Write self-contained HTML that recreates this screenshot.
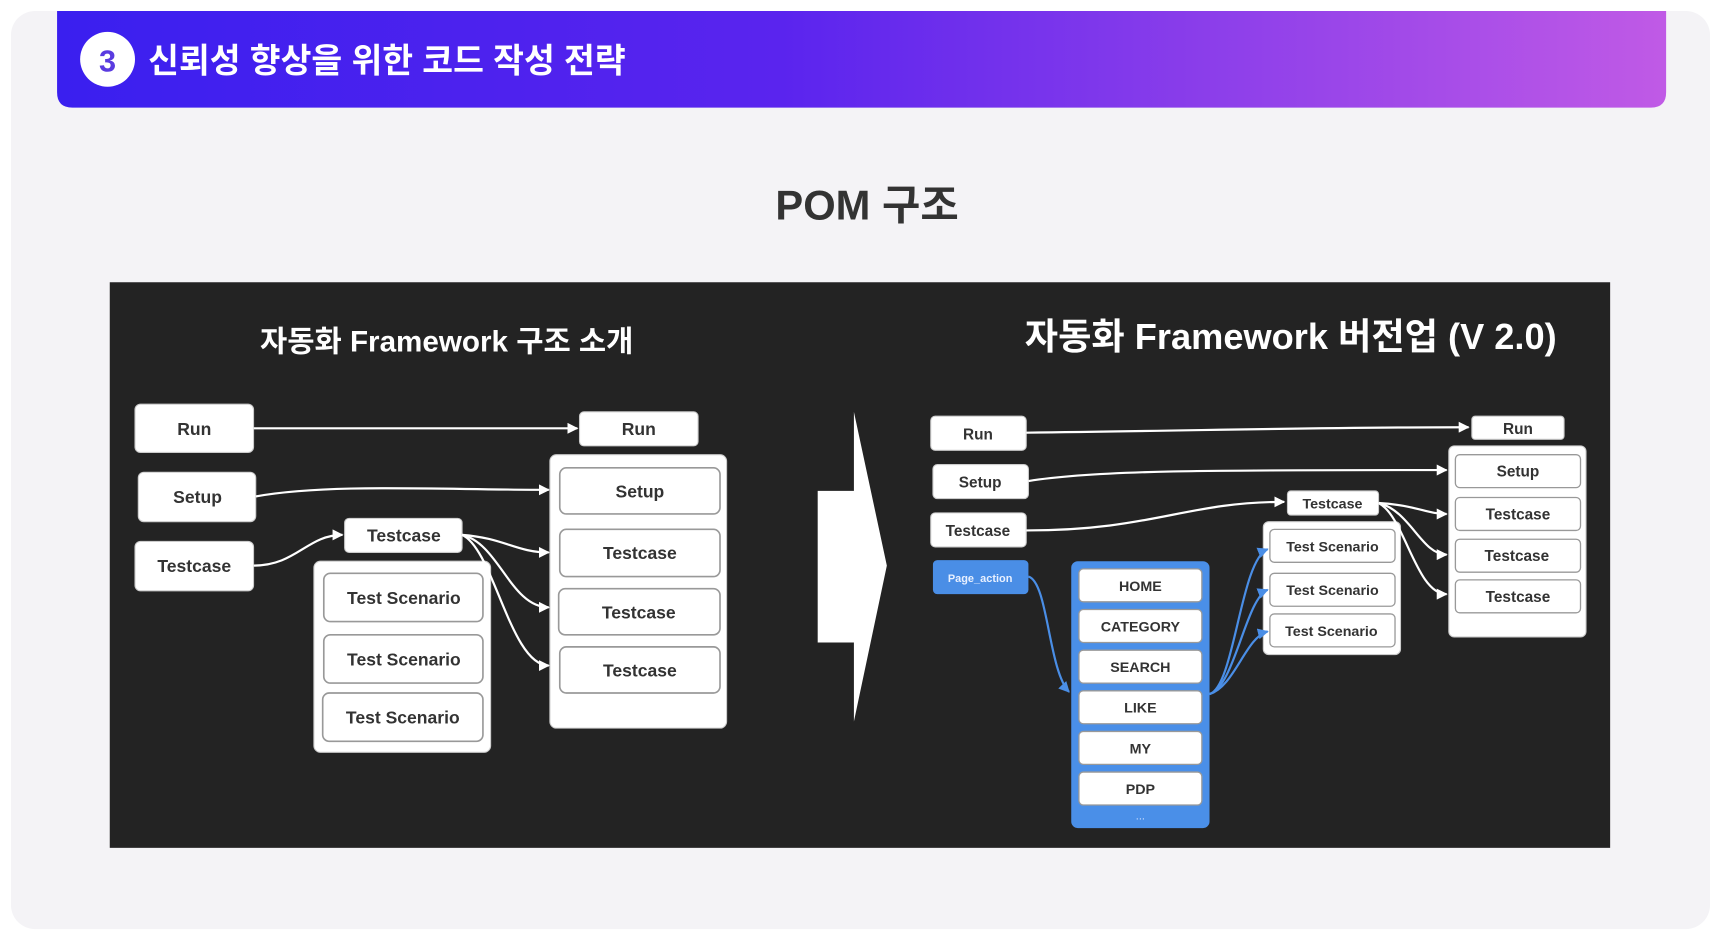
<!DOCTYPE html>
<html><head><meta charset="utf-8"><style>
html,body{margin:0;padding:0;background:#fff;}
svg{display:block;}
text{font-family:"Liberation Sans","Noto Sans CJK KR",sans-serif;}
</style></head><body>
<svg width="1721" height="939" viewBox="0 0 1568 855" preserveAspectRatio="none" xmlns="http://www.w3.org/2000/svg">
<defs>
<linearGradient id="hg" x1="0" x2="1" y1="0" y2="0">
<stop offset="0" stop-color="#3a1fef"/><stop offset="0.45" stop-color="#5a24ee"/><stop offset="1" stop-color="#c05ae6"/>
</linearGradient>
<marker id="aw" viewBox="0 0 10 10" refX="9" refY="5" markerWidth="5" markerHeight="5" orient="auto"><path d="M0,0 L10,5 L0,10 z" fill="#fff"/></marker>
<marker id="ab" viewBox="0 0 10 10" refX="9" refY="5" markerWidth="5" markerHeight="5" orient="auto"><path d="M0,0 L10,5 L0,10 z" fill="#4a8ee6"/></marker>
</defs>
<rect x="0" y="0" width="1568" height="855" fill="#fff"/>
<rect x="10" y="10" width="1548" height="836" rx="22" fill="#f4f3f6"/>
<path d="M52,10 H1518 V84 Q1518,98 1504,98 H66 Q52,98 52,84 Z" fill="url(#hg)"/>
<circle cx="98" cy="54" r="25" fill="#fff"/>
<text x="98" y="65" text-anchor="middle" font-size="28" font-weight="bold" fill="#5a3be0">3</text>
<text x="135" y="66" font-size="31" font-weight="bold" fill="#fff" textLength="435" lengthAdjust="spacingAndGlyphs">신뢰성 향상을 위한 코드 작성 전략</text>
<text x="790" y="200" text-anchor="middle" font-size="38" font-weight="bold" fill="#333">POM 구조</text>
<rect x="100" y="257" width="1367" height="515" fill="#232323"/>
<text x="407" y="320" text-anchor="middle" font-size="27" font-weight="bold" fill="#fff">자동화 Framework 구조 소개</text>
<text x="1176" y="318" text-anchor="middle" font-size="33" font-weight="bold" fill="#fff">자동화 Framework 버전업 (V 2.0)</text>

<g fill="#fff" stroke="#ccc" stroke-width="1">
<rect x="123" y="368" width="108" height="44" rx="5"/>
<rect x="528" y="375" width="108" height="31" rx="4"/>
<rect x="126" y="430" width="107" height="45" rx="5"/>
<rect x="123" y="493" width="108" height="45" rx="5"/>
<rect x="314" y="472" width="107" height="31" rx="4"/>
<rect x="286" y="511" width="161" height="174" rx="6"/>
<rect x="501" y="414" width="161" height="249" rx="6"/>
</g>
<g fill="#fff" stroke="#999" stroke-width="1.5">
<rect x="295" y="522" width="145" height="44" rx="6"/>
<rect x="295" y="578" width="145" height="44" rx="6"/>
<rect x="294" y="631" width="146" height="44" rx="6"/>
<rect x="510" y="426" width="146" height="42" rx="6"/>
<rect x="510" y="482" width="146" height="43" rx="6"/>
<rect x="509" y="536" width="147" height="42" rx="6"/>
<rect x="510" y="589" width="146" height="42" rx="6"/>
</g>
<g font-size="16" font-weight="bold" fill="#333" text-anchor="middle">
<text x="177" y="396">Run</text><text x="582" y="396">Run</text>
<text x="180" y="458">Setup</text><text x="177" y="521">Testcase</text>
<text x="368" y="493">Testcase</text>
<text x="368" y="550">Test Scenario</text><text x="368" y="606">Test Scenario</text><text x="367" y="659">Test Scenario</text>
<text x="583" y="453">Setup</text><text x="583" y="509">Testcase</text><text x="582" y="563">Testcase</text><text x="583" y="616">Testcase</text>
</g>
<g fill="none" stroke="#fff" stroke-width="2" marker-end="url(#aw)">
<path d="M231,390 H526"/>
<path d="M233,452 C300,440 400,446 500,446"/>
<path d="M231,515 C270,515 280,487 312,487"/>
<path d="M421,487 C460,490 470,503 500,503"/>
<path d="M421,487 C455,495 465,553 500,553"/>
<path d="M421,487 C450,500 465,606 500,606"/>
</g>
<polygon points="745,447 778,447 778,375 808,515 778,657 778,585 745,585" fill="#fff"/>

<g fill="#fff" stroke="#ccc" stroke-width="1">
<rect x="848" y="379" width="87" height="31" rx="4"/>
<rect x="850" y="423" width="87" height="31" rx="4"/>
<rect x="848" y="467" width="87" height="31" rx="4"/>
<rect x="1173" y="447" width="83" height="22" rx="3"/>
<rect x="1151" y="475" width="125" height="121" rx="5"/>
<rect x="1341" y="379" width="84" height="21" rx="3"/>
<rect x="1320" y="406" width="125" height="174" rx="5"/>
</g>
<rect x="850" y="510" width="87" height="31" rx="4" fill="#4a8ee6"/>
<rect x="976" y="511" width="126" height="243" rx="6" fill="#4a8fe8"/>
<g fill="#fff" stroke="#999" stroke-width="1.2">
<rect x="983" y="518" width="112" height="30" rx="4"/>
<rect x="983" y="555" width="112" height="30" rx="4"/>
<rect x="983" y="592" width="112" height="30" rx="4"/>
<rect x="983" y="629" width="112" height="30" rx="4"/>
<rect x="983" y="666" width="112" height="30" rx="4"/>
<rect x="983" y="703" width="112" height="30" rx="4"/>
<rect x="1157" y="482" width="114" height="30" rx="4"/>
<rect x="1157" y="522" width="114" height="30" rx="4"/>
<rect x="1157" y="559" width="114" height="30" rx="4"/>
<rect x="1326" y="414" width="114" height="30" rx="4"/>
<rect x="1326" y="453" width="114" height="30" rx="4"/>
<rect x="1326" y="491" width="114" height="30" rx="4"/>
<rect x="1326" y="528" width="114" height="30" rx="4"/>
</g>
<g font-size="14" font-weight="bold" fill="#333" text-anchor="middle">
<text x="891" y="400">Run</text><text x="893" y="444">Setup</text><text x="891" y="488">Testcase</text>
<text x="1214" y="463" font-size="13">Testcase</text>
<text x="1214" y="502" font-size="13">Test Scenario</text><text x="1214" y="542" font-size="13">Test Scenario</text><text x="1213" y="579" font-size="13">Test Scenario</text>
<text x="1383" y="395">Run</text>
<text x="1383" y="434">Setup</text><text x="1383" y="473">Testcase</text><text x="1382" y="511">Testcase</text><text x="1383" y="548">Testcase</text>
<text x="1039" y="538" font-size="13">HOME</text><text x="1039" y="575" font-size="13">CATEGORY</text><text x="1039" y="612" font-size="13">SEARCH</text>
<text x="1039" y="649" font-size="13">LIKE</text><text x="1039" y="686" font-size="13">MY</text><text x="1039" y="723" font-size="13">PDP</text>
</g>
<text x="893" y="530" text-anchor="middle" font-size="10" font-weight="bold" fill="#e8f0ff">Page_action</text>
<text x="1039" y="746" text-anchor="middle" font-size="10" fill="#cfe0ff">...</text>
<g fill="none" stroke="#fff" stroke-width="2" marker-end="url(#aw)">
<path d="M935,394 C1100,392 1200,389 1338,389"/>
<path d="M937,438 C1000,428 1100,428 1318,428"/>
<path d="M935,483 C1050,483 1080,457 1170,457"/>
<path d="M1256,458 C1290,460 1300,468 1318,468"/>
<path d="M1256,458 C1285,465 1295,505 1318,505"/>
<path d="M1256,458 C1280,470 1290,541 1318,541"/>
</g>
<g fill="none" stroke="#4a8ee6" stroke-width="2" marker-end="url(#ab)">
<path d="M937,525 C955,530 955,610 974,630"/>
<path d="M1102,632 C1125,625 1130,510 1155,500"/>
<path d="M1102,632 C1125,625 1135,545 1155,537"/>
<path d="M1102,632 C1125,625 1135,580 1155,575"/>
</g>
</svg>
</body></html>
